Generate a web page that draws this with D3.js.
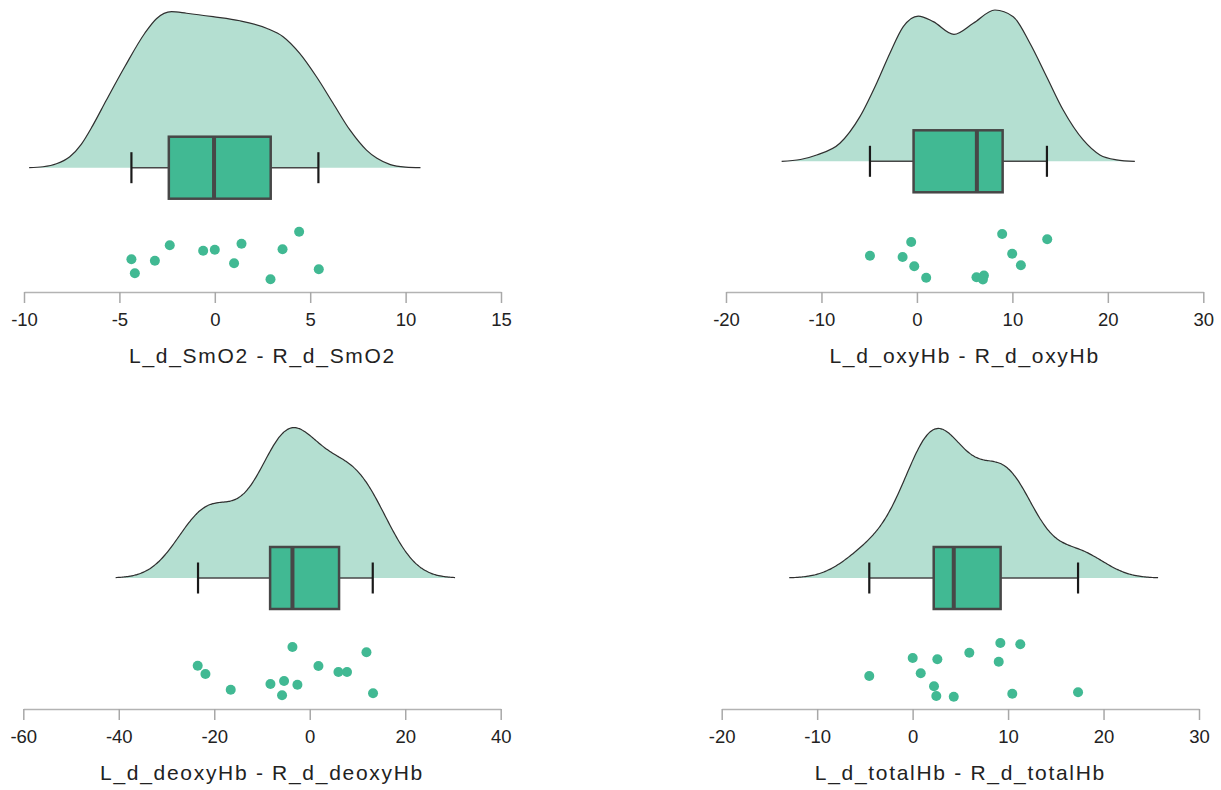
<!DOCTYPE html>
<html>
<head>
<meta charset="utf-8">
<script src="https://cdn.jsdelivr.net/npm/d3@7"></script>
<style>
  html, body { margin: 0; padding: 0; background: #ffffff; }
  svg { display: block; font-family: "Liberation Sans", Arial, sans-serif; }
</style>
</head>
<body>
<svg id="chart" width="1221" height="790"></svg>
<script>
// ---------- DATA ----------
const titles = [
  "L_d_SmO2 - R_d_SmO2",
  "L_d_oxyHb - R_d_oxyHb",
  "L_d_deoxyHb - R_d_deoxyHb",
  "L_d_totalHb - R_d_totalHb"
];

const ticksSmO2 = [-10, -5, 0, 5, 10, 15];
const ticksOxy = [-20, -10, 0, 10, 20, 30];
const ticksDeoxy = [-60, -40, -20, 0, 20, 40];
const ticksTotal = [-20, -10, 0, 10, 20, 30];

const valuesSmO2 = [-4.37, -4.19, -3.14, -2.36, -0.61, 0.0, 1.40, 1.01, 2.92, 3.55, 4.42, 5.45];
const jitterSmO2 = [0.457, 0.198, 0.431, 0.717, 0.617, 0.635, 0.746, 0.383, 0.087, 0.643, 0.969, 0.272];

const valuesOxy = [-4.92, -1.50, -0.60, -0.28, 0.97, 6.24, 7.02, 6.91, 8.93, 9.98, 10.89, 13.65];
const jitterOxy = [0.524, 0.500, 0.778, 0.328, 0.117, 0.124, 0.157, 0.083, 0.926, 0.561, 0.346, 0.828];

const valuesDeoxy = [-23.47, -21.85, -16.55, -8.23, -5.38, -5.80, -3.62, -2.58, 1.82, 6.01, 7.81, 11.88, 13.26];
const jitterDeoxy = [0.654, 0.500, 0.209, 0.315, 0.370, 0.106, 1.000, 0.302, 0.648, 0.537, 0.537, 0.902, 0.143];

const valuesTotal = [-4.54, 0.01, 0.85, 2.24, 2.48, 2.59, 4.31, 5.94, 9.02, 9.19, 10.44, 11.28, 17.33];
const jitterTotal = [0.463, 0.796, 0.513, 0.272, 0.093, 0.772, 0.080, 0.894, 0.728, 1.074, 0.135, 1.050, 0.161];

// box statistics: [lower whisker, Q1, median, Q3, upper whisker]
const boxSmO2 = [-4.37, -2.41, -0.04, 2.93, 5.43];
const boxOxy = [-4.92, -0.35, 6.28, 8.98, 13.62];
const boxDeoxy = [-23.4, -8.3, -3.62, 6.14, 13.2];
const boxTotal = [-4.54, 2.21, 4.31, 9.22, 17.33];

// density outlines (x value, relative height) for the two upper panels
const densSmO2X = [-9.73, -9.0, -8.3, -7.6, -7.0, -6.4, -5.68, -4.72, -3.67, -3.06, -2.27, -1.48, -0.09, 1.31, 2.71, 3.58, 4.45, 5.33, 6.20, 7.08, 7.95, 8.5, 9.2, 10.0, 10.78];
const densSmO2Y = [0, 0.006, 0.025, 0.07, 0.15, 0.27, 0.434, 0.647, 0.862, 0.955, 1.0, 0.99, 0.968, 0.942, 0.894, 0.84, 0.733, 0.583, 0.413, 0.242, 0.113, 0.06, 0.02, 0.004, 0];
const densOxyX = [-14.17, -12.2, -10.5, -8.07, -5.97, -4.22, -2.83, -1.43, 0.14, 1.71, 3.88, 5.90, 8.17, 10.09, 11.84, 13.59, 15.32, 17.42, 19.17, 20.9, 22.83];
const densOxyY = [0, 0.012, 0.042, 0.119, 0.295, 0.516, 0.714, 0.89, 0.96, 0.923, 0.839, 0.912, 1.0, 0.956, 0.78, 0.559, 0.339, 0.141, 0.042, 0.01, 0];

// ---------- LAYOUT ----------
const layouts = [
  { x0: 24,    x1: 501,    axisY: 292, base: 167.7, peakH: 156 },
  { x0: 726,   x1: 1203.3, axisY: 292, base: 161.3, peakH: 151.3 },
  { x0: 23.3,  x1: 500.7,  axisY: 709, base: 578,   peakH: 150.4 },
  { x0: 721.7, x1: 1199,   axisY: 709, base: 578,   peakH: 149.6 }
];

const panels = [
  { title: titles[0], ticks: ticksSmO2, values: valuesSmO2, jitter: jitterSmO2, box: boxSmO2, densX: densSmO2X, densY: densSmO2Y },
  { title: titles[1], ticks: ticksOxy, values: valuesOxy, jitter: jitterOxy, box: boxOxy, densX: densOxyX, densY: densOxyY },
  { title: titles[2], ticks: ticksDeoxy, values: valuesDeoxy, jitter: jitterDeoxy, box: boxDeoxy },
  { title: titles[3], ticks: ticksTotal, values: valuesTotal, jitter: jitterTotal, box: boxTotal }
];

const COL_DENS = "#b4dfd1";
const COL_BOX = "#41b993";
const COL_DARK = "#474747";

const svg = d3.select("#chart");

// Gaussian KDE with R's default bandwidth (bw.nrd0), cut = 3 * bw
function kde(values) {
  const v = values.slice().sort(d3.ascending);
  const n = v.length;
  const sd = d3.deviation(v);
  const iqr = d3.quantile(v, 0.75) - d3.quantile(v, 0.25);
  const bw = 0.9 * Math.min(sd, iqr / 1.34) * Math.pow(n, -0.2);
  const lo = v[0] - 3 * bw, hi = v[n - 1] + 3 * bw;
  const N = 256;
  return d3.range(N).map(i => {
    const x = lo + (hi - lo) * i / (N - 1);
    const y = d3.sum(v, d => Math.exp(-0.5 * ((x - d) / bw) ** 2)) / (n * bw * Math.sqrt(2 * Math.PI));
    return [x, y];
  });
}

panels.forEach((p, i) => {
  const L = layouts[i];
  const g = svg.append("g");
  const x = d3.scaleLinear().domain(d3.extent(p.ticks)).range([L.x0, L.x1]);

  // density
  const dens = p.densX ? p.densX.map((d, k) => [d, p.densY[k]]) : kde(p.values);
  const curve = p.densX ? d3.curveMonotoneX : d3.curveBasis;
  const yD = d3.scaleLinear().domain([0, d3.max(dens, d => d[1])]).range([L.base, L.base - L.peakH]);
  g.append("path")
    .datum(dens)
    .attr("d", d3.area().x(d => x(d[0])).y0(L.base).y1(d => yD(d[1])).curve(curve))
    .attr("fill", COL_DENS)
    .attr("stroke", "none");
  g.append("path")
    .datum(dens)
    .attr("d", d3.line().x(d => x(d[0])).y(d => yD(d[1])).curve(curve))
    .attr("fill", "none")
    .attr("stroke", "#2f2f2f")
    .attr("stroke-width", 1.2);

  // box plot
  const [wLo, q1, med, q3, wHi] = p.box;
  const bHalf = 31, cHalf = 15.5;
  g.append("line")
    .attr("x1", x(wLo)).attr("x2", x(q1)).attr("y1", L.base).attr("y2", L.base)
    .attr("stroke", COL_DARK).attr("stroke-width", 1.6);
  g.append("line")
    .attr("x1", x(q3)).attr("x2", x(wHi)).attr("y1", L.base).attr("y2", L.base)
    .attr("stroke", COL_DARK).attr("stroke-width", 1.6);
  [wLo, wHi].forEach(w => {
    g.append("line")
      .attr("x1", x(w)).attr("x2", x(w))
      .attr("y1", L.base - cHalf).attr("y2", L.base + cHalf)
      .attr("stroke", "#1a1a1a").attr("stroke-width", 2.2);
  });
  g.append("rect")
    .attr("x", x(q1)).attr("y", L.base - bHalf)
    .attr("width", x(q3) - x(q1)).attr("height", 2 * bHalf)
    .attr("fill", COL_BOX).attr("stroke", COL_DARK).attr("stroke-width", 2.5);
  g.append("line")
    .attr("x1", x(med)).attr("x2", x(med))
    .attr("y1", L.base - bHalf).attr("y2", L.base + bHalf)
    .attr("stroke", COL_DARK).attr("stroke-width", 4);

  // jittered points
  const yJ = d3.scaleLinear().domain([0, 1]).range([L.axisY - 8, L.axisY - 62]);
  g.selectAll("circle.pt")
    .data(p.values.map((v, k) => ({ v, j: p.jitter[k] })))
    .join("circle")
    .attr("class", "pt")
    .attr("cx", d => x(d.v))
    .attr("cy", d => yJ(d.j))
    .attr("r", 5)
    .attr("fill", COL_BOX);

  // axis
  const axis = d3.axisBottom(x)
    .tickValues(p.ticks)
    .tickSize(11)
    .tickSizeOuter(0)
    .tickPadding(10);
  const ag = g.append("g").attr("transform", `translate(0,${L.axisY})`).call(axis);
  ag.select(".domain").attr("stroke", "#b3b3b3").attr("stroke-width", 1.5);
  ag.selectAll(".tick line").attr("stroke", "#a8a8a8").attr("stroke-width", 1.5);
  ag.selectAll(".tick text")
    .attr("fill", "#222")
    .style("font-size", "18.5px")
    .style("font-family", "'Liberation Sans', Arial, sans-serif")
    .text(d => d < 0 ? "-" + Math.abs(d) : String(d));

  // title
  g.append("text")
    .attr("x", (L.x0 + L.x1) / 2)
    .attr("y", L.axisY + 70.5)
    .attr("text-anchor", "middle")
    .attr("fill", "#222")
    .style("font-size", "21px")
    .style("letter-spacing", "1.7px")
    .text(p.title);
});
</script>
</body>
</html>
